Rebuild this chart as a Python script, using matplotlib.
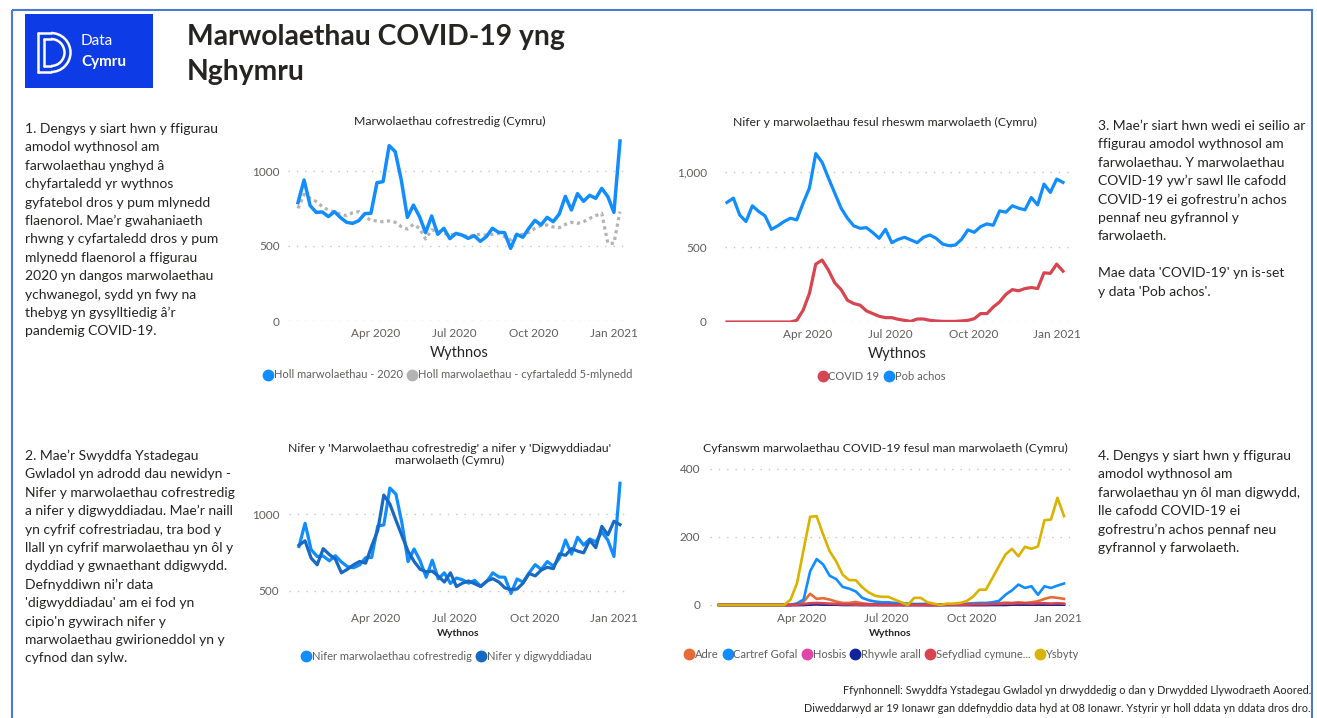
import matplotlib
matplotlib.use('Agg')
import matplotlib.pyplot as plt
import pandas as pd
from matplotlib.lines import Line2D
from matplotlib.patches import Rectangle, Arc
from matplotlib.ticker import FuncFormatter

plt.rcParams['font.family'] = ['Lato', 'DejaVu Sans']

# --- data (wythnosau 2020 -> wythnos 1 2021) ---
wythnos = pd.date_range('2020-01-03', periods=54, freq='7D')

cofrestredig_2020 = [789, 940, 769, 724, 727, 696, 729, 689, 658, 651, 669, 716, 718, 922, 929,
                     1169, 1129, 940, 691, 773, 696, 589, 700, 578, 618, 549, 584, 573, 551, 569,
                     531, 562, 618, 591, 589, 484, 578, 558, 618, 671, 640, 691, 662, 713, 831,
                     740, 849, 798, 838, 818, 884, 829, 724, 1200]
cyfartaledd_5_mlynedd = [751, 844, 818, 796, 762, 740, 724, 713, 702, 722, 729, 696, 671, 667, 662,
                         667, 658, 629, 613, 644, 618, 547, 607, 600, 584, 573, 582, 573, 562, 573,
                         578, 573, 578, 584, 562, 540, 573, 578, 591, 618, 636, 640, 627, 622, 644,
                         658, 651, 662, 684, 702, 718, 518, 518, 729]
pob_achos = [797, 826, 714, 670, 775, 737, 708, 618, 641, 670, 692, 681, 792, 893, 1123, 1065, 960,
             859, 759, 692, 641, 625, 629, 596, 558, 618, 529, 551, 565, 547, 529, 565, 580, 558,
             520, 509, 513, 551, 614, 598, 636, 654, 645, 741, 732, 775, 759, 748, 830, 781, 920,
             864, 953, 931]
digwyddiadau = pob_achos
covid_19 = [0, 0, 0, 0, 0, 0, 0, 0, 0, 0, 0, 11, 78, 190, 386, 413, 346, 261, 216, 145, 123, 112,
            74, 56, 38, 29, 29, 18, 11, 4, 20, 20, 11, 7, 4, 4, 4, 7, 11, 22, 56, 56, 100, 134, 185,
            216, 208, 223, 230, 223, 328, 324, 386, 339]

adre = [0, 0, 0, 0, 0, 0, 0, 0, 0, 0, 0, 0, 3, 10, 33, 18, 20, 16, 10, 6, 6, 9, 5, 3, 2, 2, 2, 1,
        1, 1, 1, 1, 0, 0, 0, 1, 1, 1, 2, 2, 3, 3, 4, 5, 7, 6, 8, 6, 8, 11, 18, 23, 21, 18]
cartref_gofal = [0, 0, 0, 0, 0, 0, 0, 0, 0, 0, 0, 0, 5, 16, 99, 135, 119, 86, 76, 53, 48, 40, 21,
                 14, 10, 8, 8, 6, 6, 4, 3, 3, 3, 2, 2, 2, 2, 3, 4, 5, 6, 6, 8, 12, 30, 43, 60, 50,
                 55, 30, 55, 50, 57, 63]
hosbis = [0, 0, 0, 0, 0, 0, 0, 0, 0, 0, 0, 0, 0, 1, 2, 3, 2, 2, 1, 1, 1, 1, 0, 0, 0, 0, 0, 0, 0,
          0, 0, 0, 0, 0, 0, 0, 0, 0, 0, 0, 0, 0, 1, 1, 1, 2, 2, 2, 2, 2, 3, 2, 3, 2]
rhywle_arall = [0, 0, 0, 0, 0, 0, 0, 0, 0, 0, 0, 0, 0, 0, 1, 2, 1, 1, 1, 0, 0, 0, 0, 0, 0, 0, 0,
                0, 0, 0, 0, 0, 0, 0, 0, 0, 0, 0, 0, 0, 0, 0, 0, 0, 0, 1, 1, 1, 1, 1, 1, 1, 1, 1]
sefydliad_cymunedol = [0, 0, 0, 0, 0, 0, 0, 0, 0, 0, 0, 0, 1, 3, 5, 6, 5, 4, 3, 2, 2, 1, 1, 1, 1,
                       0, 0, 0, 0, 0, 0, 0, 0, 0, 0, 1, 1, 1, 1, 2, 2, 2, 3, 3, 4, 4, 5, 5, 4, 5,
                       5, 4, 5, 4]
ysbyty = [0, 0, 0, 0, 0, 0, 0, 0, 0, 0, 0, 16, 65, 163, 259, 261, 207, 158, 128, 89, 73, 73, 52,
          37, 27, 24, 24, 16, 8, 0, 21, 21, 8, 4, 0, 4, 4, 6, 11, 24, 45, 45, 79, 114, 148, 165,
          143, 171, 165, 172, 249, 251, 315, 261]

tic_dyddiadau = pd.to_datetime(['2020-04-01', '2020-07-01', '2020-10-01', '2021-01-01'])
tic_labeli = ['Apr 2020', 'Jul 2020', 'Oct 2020', 'Jan 2021']

GLAS = '#118DFF'
GLAS_TYWYLL = '#1769C4'
LLWYD = '#B3B3B3'
COCH = '#D64550'
TESTUN = '#252423'
TESTUN_LLWYD = '#605E5C'

W, H = 1317, 718
fig = plt.figure(figsize=(W / 100, H / 100), dpi=100)
fig.patch.set_facecolor('white')

# cefndir mewn picseli
bg = fig.add_axes([0, 0, 1, 1], zorder=-1)
bg.set_xlim(0, W)
bg.set_ylim(H, 0)
bg.axis('off')


def px_axes(l, t, r, b):
    ax = fig.add_axes([l / W, 1 - b / H, (r - l) / W, (b - t) / H])
    ax.set_facecolor('none')
    return ax


def x_terfynau(ax, px_cyntaf, px_olaf, l, r):
    dyddiau = (wythnos[-1] - wythnos[0]).days
    y_px = dyddiau / (px_olaf - px_cyntaf)
    ax.set_xlim(wythnos[0] - pd.Timedelta(days=(px_cyntaf - l) * y_px),
                wythnos[-1] + pd.Timedelta(days=(r - px_olaf) * y_px))


def steil(ax, yticks, ypad, xpad, xlabel_maint, labelpad, bold=False, fmt=None):
    for s in ax.spines.values():
        s.set_visible(False)
    ax.set_yticks(yticks)
    if fmt:
        ax.yaxis.set_major_formatter(FuncFormatter(fmt))
    ax.set_xticks(tic_dyddiadau)
    ax.set_xticklabels(tic_labeli)
    ax.tick_params(axis='y', length=0, pad=ypad, labelsize=8.5, labelcolor=TESTUN_LLWYD)
    ax.tick_params(axis='x', length=0, pad=xpad, labelsize=8.5, labelcolor=TESTUN_LLWYD)
    ax.yaxis.grid(True, color='#C8C6C4', linestyle=(0, (1, 5)), lw=1)
    ax.set_axisbelow(True)
    ax.set_xlabel('Wythnos', fontsize=xlabel_maint, color=TESTUN, labelpad=labelpad,
                  fontweight='bold' if bold else 'normal')


def chwedl(ax, lliwiau, labeli, cx, cy, maint=8):
    handles = [Line2D([], [], marker='o', linestyle='', markersize=7.5, color=c) for c in lliwiau]
    ax.legend(handles, labeli, loc='center', bbox_to_anchor=(cx / W, 1 - cy / H),
              bbox_transform=fig.transFigure, ncol=len(labeli), frameon=False,
              handlelength=0.7, handletextpad=0.15, columnspacing=0.5,
              fontsize=maint, labelcolor=TESTUN_LLWYD, borderpad=0)


# --- siart 1 ---
ax1 = px_axes(288, 135, 630, 321)
ax1.plot(wythnos, cofrestredig_2020, color=GLAS, lw=2.5, zorder=3)
ax1.plot(wythnos, cyfartaledd_5_mlynedd, color=LLWYD, lw=2.3, linestyle=(0, (1, 1.1)), zorder=2)
ax1.set_ylim(0, 1240)
x_terfynau(ax1, 298, 620, 288, 630)
steil(ax1, [0, 500, 1000], 6, 5, 10.5, 5)
chwedl(ax1, [GLAS, LLWYD], ['Holl marwolaethau - 2020', 'Holl marwolaethau - cyfartaledd 5-mlynedd'], 448, 375)
bg.text(450, 121, 'Marwolaethau cofrestredig (Cymru)', ha='center', va='center', fontsize=8.8, color=TESTUN)

# --- siart 2 ---
ax2 = px_axes(725, 135, 1070, 322)
ax2.plot(wythnos, covid_19, color=COCH, lw=2.3, zorder=3)
ax2.plot(wythnos, pob_achos, color=GLAS, lw=2.3, zorder=3)
ax2.set_ylim(0, 1247)
x_terfynau(ax2, 727, 1063, 725, 1070)
steil(ax2, [0, 500, 1000], 13, 5, 10.5, 5, fmt=lambda v, p: f'{v:,.0f}')
chwedl(ax2, [COCH, GLAS], ['COVID 19', 'Pob achos'], 882, 376)
bg.text(885, 122, 'Nifer y marwolaethau fesul rheswm marwolaeth (Cymru)', ha='center', va='center',
        fontsize=8.8, color=TESTUN)

# --- siart 3 ---
ax3 = px_axes(289, 478, 628, 603)
ax3.plot(wythnos, cofrestredig_2020, color=GLAS, lw=2.3, zorder=3)
ax3.plot(wythnos, digwyddiadau, color=GLAS_TYWYLL, lw=2.3, zorder=3)
ax3.set_ylim(422, 1234)
x_terfynau(ax3, 299, 620, 289, 628)
steil(ax3, [500, 1000], 7, 7, 7.5, 4, bold=True)
chwedl(ax3, [GLAS, GLAS_TYWYLL], ['Nifer marwolaethau cofrestredig', 'Nifer y digwyddiadau'], 447, 656)
bg.text(450, 454.5, "Nifer y 'Marwolaethau cofrestredig' a nifer y 'Digwyddiadau'\nmarwolaeth (Cymru)",
        ha='center', va='center', fontsize=8.8, color=TESTUN, linespacing=1.2)

# --- siart 4 ---
ax4 = px_axes(710, 462, 1070, 607)
lleoedd = [('Adre', adre, '#E66C37'), ('Cartref Gofal', cartref_gofal, GLAS),
           ('Hosbis', hosbis, '#E044A7'), ('Rhywle arall', rhywle_arall, '#12239E'),
           ('Sefydliad cymune...', sefydliad_cymunedol, COCH), ('Ysbyty', ysbyty, '#D9B300')]
for enw, gwerthoedd, lliw in lleoedd:
    ax4.plot(wythnos, gwerthoedd, color=lliw, lw=1.9, zorder=3)
ax4.set_ylim(-5.9, 420)
x_terfynau(ax4, 719, 1064, 710, 1070)
steil(ax4, [0, 200, 400], 7, 4, 7.5, 4, bold=True)
chwedl(ax4, [l[2] for l in lleoedd], [l[0] for l in lleoedd], 882, 654)
bg.text(885, 448, 'Cyfanswm marwolaethau COVID-19 fesul man marwolaeth (Cymru)', ha='center',
        va='center', fontsize=8.8, color=TESTUN)

# --- ffrâm, logo a theitl ---
bg.add_patch(Rectangle((12, 10), 1300, 720, fill=False, edgecolor='#4A7BD4', lw=1.5))
bg.add_patch(Rectangle((25, 14), 128, 74, facecolor='#0D3BE6', edgecolor='none'))
for x0, y0, y1, r in [(38, 33, 72, 19.5), (44, 39, 66, 13.5)]:
    yc = (y0 + y1) / 2
    bg.plot([x0, x0], [y0, y1], color='white', lw=1.8, solid_capstyle='round')
    bg.plot([x0, 51], [y0, y0], color='white', lw=1.8, solid_capstyle='round')
    bg.plot([x0, 51], [y1, y1], color='white', lw=1.8, solid_capstyle='round')
    bg.add_patch(Arc((51, yc), 2 * r, y1 - y0, theta1=-90, theta2=90, color='white', lw=1.8))
bg.text(81, 41, 'Data', color='white', fontsize=11, fontweight='normal', va='center')
bg.text(81, 62, 'Cymru', color='white', fontsize=11, fontweight='bold', va='center')
bg.text(187, 37, 'Marwolaethau COVID-19 yng', fontsize=20.3, fontweight='bold', color=TESTUN, va='center')
bg.text(187, 72, 'Nghymru', fontsize=20.3, fontweight='bold', color=TESTUN, va='center')

# --- blociau testun ---
bloc1 = ['1. Dengys y siart hwn y ffigurau', 'amodol wythnosol am', 'farwolaethau ynghyd â',
         'chyfartaledd yr wythnos', 'gyfatebol dros y pum mlynedd', 'flaenorol. Mae’r gwahaniaeth',
         'rhwng y cyfartaledd dros y pum', 'mlynedd flaenorol a ffigurau',
         '2020 yn dangos marwolaethau', 'ychwanegol, sydd yn fwy na',
         'thebyg yn gysylltiedig â’r', 'pandemig COVID-19.']
bloc2 = ['2. Mae’r Swyddfa Ystadegau', 'Gwladol yn adrodd dau newidyn -',
         'Nifer y marwolaethau cofrestredig', 'a nifer y digwyddiadau. Mae’r naill',
         'yn cyfrif cofrestriadau, tra bod y', 'llall yn cyfrif marwolaethau yn ôl y',
         'dyddiad y gwnaethant ddigwydd.', 'Defnyddiwn ni’r data', "'digwyddiadau' am ei fod yn",
         "cipio'n gywirach nifer y", 'marwolaethau gwirioneddol yn y', 'cyfnod dan sylw.']
bloc3 = ['3. Mae’r siart hwn wedi ei seilio ar', 'ffigurau amodol wythnosol am',
         'farwolaethau. Y marwolaethau', 'COVID-19 yw’r sawl lle cafodd',
         'COVID-19 ei gofrestru’n achos', 'pennaf neu gyfrannol y', 'farwolaeth.', '',
         "Mae data 'COVID-19' yn is-set", "y data 'Pob achos'."]
bloc4 = ['4. Dengys y siart hwn y ffigurau', 'amodol wythnosol am',
         'farwolaethau yn ôl man digwydd,', 'lle cafodd COVID-19 ei',
         'gofrestru’n achos pennaf neu', 'gyfrannol y farwolaeth.']

for x, y, llinellau in [(25, 129, bloc1), (25, 456, bloc2), (1098, 126, bloc3), (1098, 456, bloc4)]:
    for i, llinell in enumerate(llinellau):
        bg.text(x, y + i * 18.4, llinell, fontsize=10, color=TESTUN, va='center')

bg.text(1311, 691, 'Ffynhonnell: Swyddfa Ystadegau Gwladol yn drwyddedig o dan y Drwydded Llywodraeth Aoored.',
        fontsize=7.8, color=TESTUN, ha='right', va='center')
bg.text(1311, 708, 'Diweddarwyd ar 19 Ionawr gan ddefnyddio data hyd at 08 Ionawr. Ystyrir yr holl ddata yn ddata dros dro.',
        fontsize=7.8, color=TESTUN, ha='right', va='center')

fig.savefig('out.png', dpi=100)
